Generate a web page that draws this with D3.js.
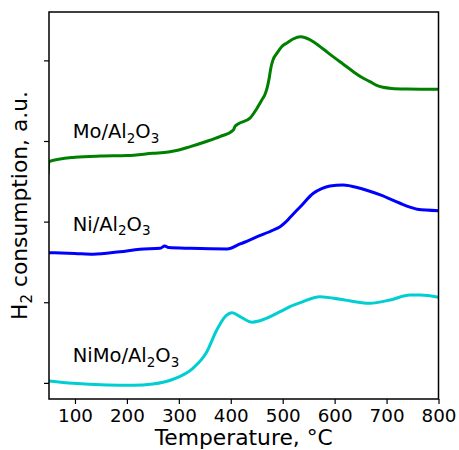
<!DOCTYPE html>
<html><head><meta charset="utf-8">
<script src="https://cdn.jsdelivr.net/npm/d3@7"></script>
<style>body{margin:0;background:#fff}svg{display:block;font-family:"DejaVu Sans",sans-serif}</style>
</head><body>
<script>
const xTicks = [100,200,300,400,500,600,700,800];
const yTicks = [0,1,2,3,4];
const seriesNames = ["Mo/Al2O3","Ni/Al2O3","NiMo/Al2O3"];
const seriesColors = ["#008000","#0000ff","#00ced1"];

const moT = [48,50,100,150,200,250,280,300,322,350,379,405,408,414,437,450,460,466,470,474,477,481,489,498,508,520,534,545,559,578,597,616,636,652,668,681,693,710,740,800];
const moV = [2.58,2.746,2.798,2.814,2.820,2.848,2.864,2.888,2.930,2.988,3.054,3.137,3.18,3.211,3.283,3.40,3.51,3.58,3.66,3.78,3.90,4.00,4.09,4.17,4.216,4.265,4.294,4.278,4.232,4.141,4.046,3.955,3.860,3.79,3.736,3.69,3.666,3.652,3.645,3.641];

const niT = [50,100,135,187,225,264,273,280,322,393,418,451,482,495,505,515,534,559,575,591,616,649,688,726,745,759,800];
const niV = [1.615,1.605,1.595,1.627,1.657,1.669,1.698,1.679,1.669,1.661,1.723,1.813,1.896,1.937,1.99,2.058,2.185,2.352,2.41,2.442,2.455,2.414,2.331,2.228,2.18,2.153,2.136];

const nimoT = [50,96,161,212,250,289,327,354,373,389,403,418,441,456,495,514,534,572,611,668,707,745,765,800];
const nimoV = [0.024,-0.005,-0.026,-0.030,-0.014,0.045,0.181,0.387,0.656,0.821,0.871,0.821,0.752,0.771,0.883,0.945,0.995,1.069,1.037,0.987,1.028,1.090,1.090,1.062];

const labelSeries = [{t:95.6,v:3.034,n:["Mo/Al","2","O","3"]},{t:95.6,v:1.884,n:["Ni/Al","2","O","3"]},{t:95.6,v:0.255,n:["NiMo/Al","2","O","3"]}];

const W=459,H=450, L=49, R=438.5, T=12, B=399;
const svg=d3.select("body").append("svg").attr("width",W).attr("height",H);
const x=d3.scaleLinear().domain([50,800]).range([L,R]);
const y=d3.scaleLinear().domain([-0.2,4.6]).range([B,T]);

svg.append("defs").append("clipPath").attr("id","c").append("rect").attr("x",L).attr("y",T).attr("width",R-L).attr("height",B-T);

const line=d3.line().x(d=>x(d[0])).y(d=>y(d[1])).curve(d3.curveMonotoneX);
const data=[d3.zip(moT,moV), d3.zip(niT,niV), d3.zip(nimoT,nimoV)];
const g=svg.append("g").attr("clip-path","url(#c)");
data.forEach((d,i)=>{
  g.append("path").attr("d",line(d)).attr("fill","none").attr("stroke",seriesColors[i]).attr("stroke-width",3).attr("stroke-linejoin","round");
});

// axes
const xa=svg.append("g").attr("transform",`translate(0,${B})`).call(d3.axisBottom(x).tickValues(xTicks).tickSize(5).tickPadding(5).tickFormat(d3.format("d")));
const ya=svg.append("g").attr("transform",`translate(${L},0)`).call(d3.axisLeft(y).tickValues(yTicks).tickSize(5).tickFormat(""));
[xa,ya].forEach(a=>{a.select(".domain").remove();a.selectAll("line").attr("stroke","#000").attr("stroke-width",1.2);a.selectAll("text").attr("fill","#000").attr("font-size",18.3).attr("font-family","DejaVu Sans");});

svg.append("rect").attr("x",L).attr("y",T).attr("width",R-L).attr("height",B-T).attr("fill","none").attr("stroke","#000").attr("stroke-width",1.5);

svg.append("text").attr("x",(L+R)/2).attr("y",445).attr("text-anchor","middle").attr("font-size",21.8).text("Temperature, °C");
const yl=svg.append("text").attr("transform",`translate(27,${(T+B)/2}) rotate(-90)`).attr("text-anchor","middle").attr("font-size",21.8);
yl.append("tspan").text("H");
yl.append("tspan").attr("font-size",15).attr("dy",5).text("2");
yl.append("tspan").attr("dy",-5).text(" consumption, a.u.");

labelSeries.forEach(s=>{
  const t=svg.append("text").attr("x",x(s.t)).attr("y",y(s.v)).attr("font-size",19.5);
  t.append("tspan").text(s.n[0]);
  t.append("tspan").attr("font-size",13.5).attr("dy",4.5).text(s.n[1]);
  t.append("tspan").attr("dy",-4.5).text(s.n[2]);
  t.append("tspan").attr("font-size",13.5).attr("dy",4.5).text(s.n[3]);
});
</script>
</body></html>
